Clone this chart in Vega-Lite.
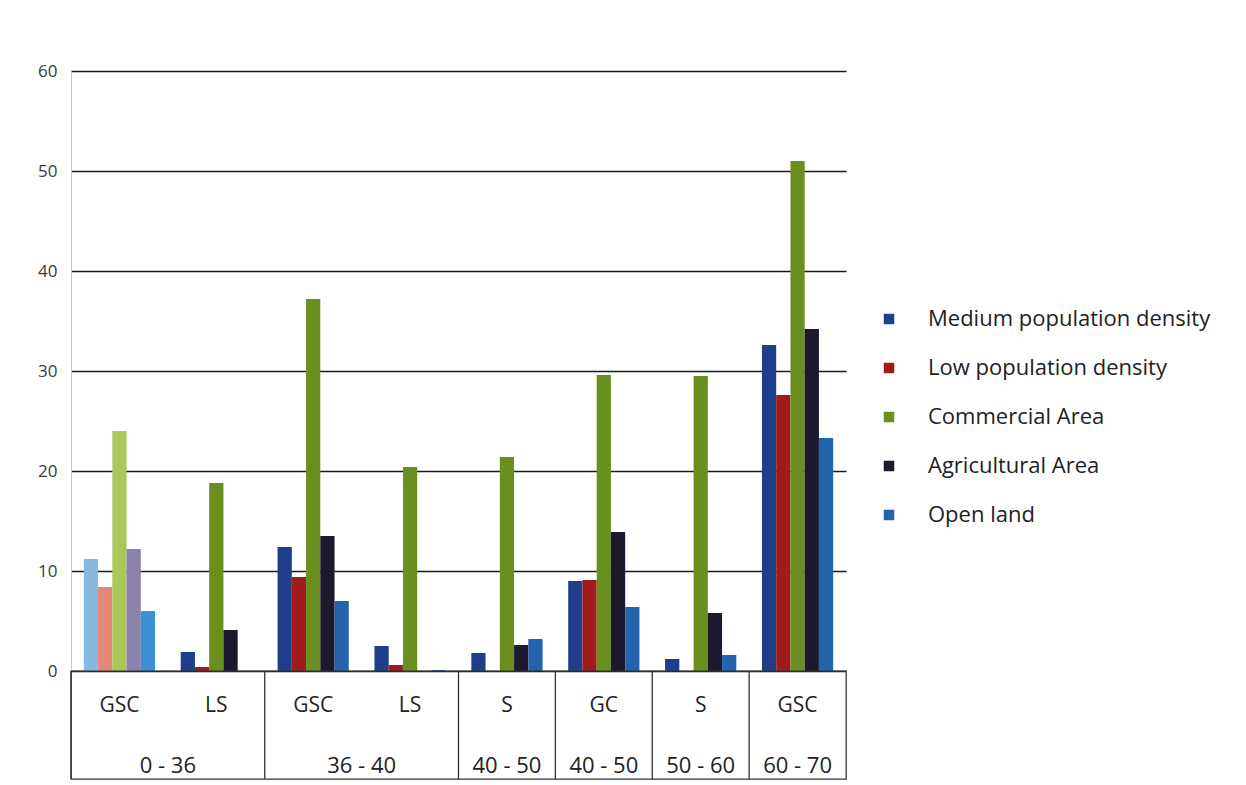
{
  "$schema": "https://vega.github.io/schema/vega-lite/v6.json",
  "padding": {"left": 37, "top": 62, "right": 0, "bottom": 0},
  "bounds": "flush",
  "background": "white",
  "config": {
    "view": {"stroke": null},
    "font": "Open Sans",
    "text": {"font": "Open Sans"}
  },
  "datasets": {
    "bars": [
      {"cat": "0-36 GSC", "series": "Medium population density", "value": 11.2},
      {"cat": "0-36 GSC", "series": "Low population density", "value": 8.4},
      {"cat": "0-36 GSC", "series": "Commercial Area", "value": 24.0},
      {"cat": "0-36 GSC", "series": "Agricultural Area", "value": 12.2},
      {"cat": "0-36 GSC", "series": "Open land", "value": 6.0},
      {"cat": "0-36 LS", "series": "Medium population density", "value": 1.9},
      {"cat": "0-36 LS", "series": "Low population density", "value": 0.4},
      {"cat": "0-36 LS", "series": "Commercial Area", "value": 18.8},
      {"cat": "0-36 LS", "series": "Agricultural Area", "value": 4.1},
      {"cat": "0-36 LS", "series": "Open land", "value": 0},
      {"cat": "36-40 GSC", "series": "Medium population density", "value": 12.4},
      {"cat": "36-40 GSC", "series": "Low population density", "value": 9.4},
      {"cat": "36-40 GSC", "series": "Commercial Area", "value": 37.2},
      {"cat": "36-40 GSC", "series": "Agricultural Area", "value": 13.5},
      {"cat": "36-40 GSC", "series": "Open land", "value": 7.0},
      {"cat": "36-40 LS", "series": "Medium population density", "value": 2.5},
      {"cat": "36-40 LS", "series": "Low population density", "value": 0.6},
      {"cat": "36-40 LS", "series": "Commercial Area", "value": 20.4},
      {"cat": "36-40 LS", "series": "Agricultural Area", "value": 0},
      {"cat": "36-40 LS", "series": "Open land", "value": 0.1},
      {"cat": "40-50 S", "series": "Medium population density", "value": 1.8},
      {"cat": "40-50 S", "series": "Low population density", "value": 0},
      {"cat": "40-50 S", "series": "Commercial Area", "value": 21.4},
      {"cat": "40-50 S", "series": "Agricultural Area", "value": 2.6},
      {"cat": "40-50 S", "series": "Open land", "value": 3.2},
      {"cat": "40-50 GC", "series": "Medium population density", "value": 9.0},
      {"cat": "40-50 GC", "series": "Low population density", "value": 9.1},
      {"cat": "40-50 GC", "series": "Commercial Area", "value": 29.6},
      {"cat": "40-50 GC", "series": "Agricultural Area", "value": 13.9},
      {"cat": "40-50 GC", "series": "Open land", "value": 6.4},
      {"cat": "50-60 S", "series": "Medium population density", "value": 1.2},
      {"cat": "50-60 S", "series": "Low population density", "value": 0},
      {"cat": "50-60 S", "series": "Commercial Area", "value": 29.5},
      {"cat": "50-60 S", "series": "Agricultural Area", "value": 5.8},
      {"cat": "50-60 S", "series": "Open land", "value": 1.6},
      {"cat": "60-70 GSC", "series": "Medium population density", "value": 32.6},
      {"cat": "60-70 GSC", "series": "Low population density", "value": 27.6},
      {"cat": "60-70 GSC", "series": "Commercial Area", "value": 51.0},
      {"cat": "60-70 GSC", "series": "Agricultural Area", "value": 34.2},
      {"cat": "60-70 GSC", "series": "Open land", "value": 23.3}
    ],
    "zones": [
      {"cat": "0-36 GSC", "zone": "GSC"},
      {"cat": "0-36 LS", "zone": "LS"},
      {"cat": "36-40 GSC", "zone": "GSC"},
      {"cat": "36-40 LS", "zone": "LS"},
      {"cat": "40-50 S", "zone": "S"},
      {"cat": "40-50 GC", "zone": "GC"},
      {"cat": "50-60 S", "zone": "S"},
      {"cat": "60-70 GSC", "zone": "GSC"}
    ],
    "ranges": [
      {"cat": "0-36 GSC", "range": "0 - 36", "span": 2},
      {"cat": "36-40 GSC", "range": "36 - 40", "span": 2},
      {"cat": "40-50 S", "range": "40 - 50", "span": 1},
      {"cat": "40-50 GC", "range": "40 - 50", "span": 1},
      {"cat": "50-60 S", "range": "50 - 60", "span": 1},
      {"cat": "60-70 GSC", "range": "60 - 70", "span": 1}
    ]
  },
  "vconcat": [
    {
      "width": 775,
      "height": 600,
      "data": {"name": "bars"},
      "mark": {"type": "bar"},
      "encoding": {
        "x": {
          "field": "cat",
          "type": "nominal",
          "sort": null,
          "axis": null,
          "scale": {
            "domain": ["0-36 GSC", "0-36 LS", "36-40 GSC", "36-40 LS", "40-50 S", "40-50 GC", "50-60 S", "60-70 GSC"],
            "paddingInner": 0,
            "paddingOuter": 0
          }
        },
        "xOffset": {
          "field": "series",
          "type": "nominal",
          "sort": ["Medium population density", "Low population density", "Commercial Area", "Agricultural Area", "Open land"],
          "scale": {"paddingInner": 0, "paddingOuter": 0.9}
        },
        "y": {
          "field": "value",
          "type": "quantitative",
          "scale": {"domain": [0, 60], "nice": false},
          "axis": {
            "title": null,
            "values": [0, 10, 20, 30, 40, 50, 60],
            "grid": true,
            "gridColor": "#1a1a1a",
            "gridWidth": 1.6,
            "domain": true,
            "domainColor": "#c8c8c8",
            "ticks": false,
            "labelPadding": 14,
            "labelFontSize": 17,
            "labelColor": "#3a3a3a",
            "labelFont": "Open Sans"
          }
        },
        "color": {
          "field": "series",
          "type": "nominal",
          "sort": ["Medium population density", "Low population density", "Commercial Area", "Agricultural Area", "Open land"],
          "scale": {
            "domain": ["Medium population density", "Low population density", "Commercial Area", "Agricultural Area", "Open land"],
            "range": ["#1f3e8c", "#a01b1b", "#6b8f1f", "#1d1a30", "#2463ae"]
          },
          "condition": [
            {"test": "datum.cat === '0-36 GSC' && datum.series === 'Medium population density'", "value": "#86b8e2"},
            {"test": "datum.cat === '0-36 GSC' && datum.series === 'Low population density'", "value": "#e7877a"},
            {"test": "datum.cat === '0-36 GSC' && datum.series === 'Commercial Area'", "value": "#a9c85c"},
            {"test": "datum.cat === '0-36 GSC' && datum.series === 'Agricultural Area'", "value": "#8c82ad"},
            {"test": "datum.cat === '0-36 GSC' && datum.series === 'Open land'", "value": "#3b90d6"}
          ],
          "legend": {
            "title": null,
            "orient": "none",
            "legendX": 807,
            "legendY": 237,
            "symbolType": "square",
            "symbolSize": 110,
            "symbolStrokeWidth": 0,
            "labelFontSize": 22,
            "labelFont": "Open Sans",
            "labelColor": "#222",
            "labelOffset": 28,
            "labelLimit": 400,
            "rowPadding": 27
          }
        }
      }
    },
    {
      "width": 775,
      "height": 108,
      "view": {"stroke": "#333", "strokeWidth": 1.3},
      "layer": [
        {
          "data": {"name": "zones"},
          "mark": {"type": "text", "fontSize": 21, "dy": -19, "color": "#222", "font": "Open Sans"},
          "encoding": {
            "x": {
              "field": "cat",
              "type": "nominal",
              "sort": null,
              "axis": null,
              "scale": {
                "domain": ["0-36 GSC", "0-36 LS", "36-40 GSC", "36-40 LS", "40-50 S", "40-50 GC", "50-60 S", "60-70 GSC"],
                "paddingInner": 0,
                "paddingOuter": 0
              }
            },
            "text": {"field": "zone"}
          }
        },
        {
          "data": {"name": "ranges"},
          "transform": [{"filter": "datum.span === 2"}],
          "mark": {"type": "text", "fontSize": 22, "dy": 41, "color": "#222", "font": "Open Sans"},
          "encoding": {
            "x": {"field": "cat", "type": "nominal", "sort": null, "axis": null, "bandPosition": 1},
            "text": {"field": "range"}
          }
        },
        {
          "data": {"name": "ranges"},
          "transform": [{"filter": "datum.span === 1"}],
          "mark": {"type": "text", "fontSize": 22, "dy": 41, "color": "#222", "font": "Open Sans"},
          "encoding": {
            "x": {"field": "cat", "type": "nominal", "sort": null, "axis": null, "bandPosition": 0.5},
            "text": {"field": "range"}
          }
        },
        {
          "data": {"name": "ranges"},
          "mark": {"type": "rule", "color": "#333", "strokeWidth": 1.3},
          "encoding": {
            "x": {"field": "cat", "type": "nominal", "sort": null, "axis": null, "bandPosition": 0}
          }
        }
      ]
    }
  ],
  "spacing": 0
}
